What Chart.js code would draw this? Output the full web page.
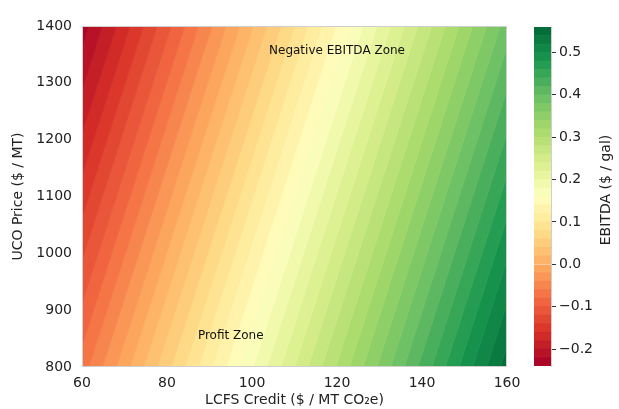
<!DOCTYPE html>
<html>
<head>
    <title>EBITDA contour</title>
    <script src="https://cdn.jsdelivr.net/npm/chart.js"></script>
    <style>
        body { margin: 0; background: #fff; }
        #main { position: absolute; left: 0; top: 0; }
        #cbar { position: absolute; left: 521px; top: 0; }
    </style>
</head>
<body>
    <canvas id="main" width="529" height="409"></canvas>
    <canvas id="cbar" width="98" height="409"></canvas>

    <script>
        // contour levels of EBITDA ($ / gal)
        var levels = [-0.24, -0.22, -0.2, -0.18, -0.16, -0.14, -0.12, -0.1, -0.08, -0.06, -0.04, -0.02, 0,
            0.02, 0.04, 0.06, 0.08, 0.1, 0.12, 0.14, 0.16, 0.18, 0.2, 0.22, 0.24, 0.26, 0.28, 0.3,
            0.32, 0.34, 0.36, 0.38, 0.4, 0.42, 0.44, 0.46, 0.48, 0.5, 0.52, 0.54, 0.56];
        // LCFS credit where each inner level (-0.22 ... 0.54) crosses UCO = 800 and UCO = 1400
        var bottomCredit = [35.8, 39.0, 42.3, 45.5, 48.7, 51.9, 55.2, 58.4, 61.6, 64.8, 68.1, 71.3, 74.5,
            77.7, 81.0, 84.2, 87.4, 90.6, 93.9, 97.1, 100.3, 103.5, 106.8, 110.0, 113.2, 116.4, 119.7,
            122.9, 126.1, 129.4, 132.6, 135.8, 139.0, 142.3, 145.5, 148.7, 151.9, 155.2, 158.4];
        var topCredit = [61.6, 64.8, 68.1, 71.3, 74.5, 77.7, 81.0, 84.2, 87.4, 90.6, 93.9, 97.1, 100.3,
            103.5, 106.8, 110.0, 113.2, 116.4, 119.7, 122.9, 126.1, 129.4, 132.6, 135.8, 139.0, 142.3,
            145.5, 148.7, 151.9, 155.2, 158.4, 161.6, 164.8, 168.1, 171.3, 174.5, 177.7, 181.0, 184.2];
        var ucoRange = [800, 1400];
        var creditRange = [60, 160];
        var creditTicks = [60, 80, 100, 120, 140, 160];
        var ucoTicks = [800, 900, 1000, 1100, 1200, 1300, 1400];
        var cbarTicks = [-0.2, -0.1, 0, 0.1, 0.2, 0.3, 0.4, 0.5];
        var zoneLabels = [
            { text: 'Negative EBITDA Zone', credit: 120, uco: 1357 },
            { text: 'Profit Zone', credit: 95, uco: 855 }
        ];

        // RdYlGn
        var rdylgn = [[165, 0, 38], [215, 48, 39], [244, 109, 67], [253, 174, 97], [254, 224, 139],
            [255, 255, 191], [217, 239, 139], [166, 217, 106], [102, 189, 99], [26, 152, 80], [0, 104, 55]];
        function cmap(t) {
            var p = Math.max(0, Math.min(1, t)) * (rdylgn.length - 1);
            var i = Math.min(Math.floor(p), rdylgn.length - 2);
            var f = p - i;
            var c = rdylgn[i].map(function (v, j) { return Math.round(v + (rdylgn[i + 1][j] - v) * f); });
            return 'rgb(' + c.join(',') + ')';
        }
        var bandCount = levels.length - 1;
        function bandColor(k) { return cmap((k + 0.5) / bandCount); }

        var font = { family: 'DejaVu Sans', size: 14 };
        var textColor = '#222';

        function fmt(v) {
            var s = Math.abs(v).toFixed(1);
            return v < -1e-9 ? '\u2212' + s : s;
        }

        // one line per contour level, each band filled to the previous line
        var datasets = [];
        for (var k = 0; k < bandCount; k++) {
            var j = Math.min(k, bottomCredit.length - 1);
            var fill = '-1';
            if (k === 0) fill = { target: { value: creditRange[0] } };
            if (k === bandCount - 1) fill = { target: { value: creditRange[1] } };
            datasets.push({
                data: [{ x: topCredit[j], y: ucoRange[1] }, { x: bottomCredit[j], y: ucoRange[0] }],
                backgroundColor: bandColor(k),
                borderColor: bandColor(k),
                borderWidth: k < bottomCredit.length ? 1 : 0,
                fill: fill,
                pointRadius: 0,
                tension: 0,
                clip: 0
            });
        }

        var zonePlugin = {
            id: 'zones',
            afterDatasetsDraw: function (chart) {
                var c = chart.ctx, a = chart.chartArea;
                c.save();
                c.strokeStyle = '#cfcfcf';
                c.lineWidth = 1;
                c.strokeRect(a.left + 0.5, a.top + 0.5, a.right - a.left - 1, a.bottom - a.top - 1);
                c.fillStyle = '#111';
                c.font = '12px "DejaVu Sans"';
                c.textAlign = 'center';
                c.textBaseline = 'middle';
                zoneLabels.forEach(function (z) {
                    c.fillText(z.text, chart.scales.x.getPixelForValue(z.credit), chart.scales.y.getPixelForValue(z.uco));
                });
                c.restore();
            }
        };

        var chart1 = new Chart(document.getElementById('main').getContext('2d'), {
            type: 'line',
            data: { datasets: datasets },
            options: {
                indexAxis: 'y',
                responsive: false,
                animation: false,
                layout: { padding: { left: 0, top: 26, right: 22, bottom: 0 } },
                plugins: { legend: { display: false }, tooltip: { enabled: false } },
                scales: {
                    x: {
                        type: 'linear', position: 'bottom', min: creditRange[0], max: creditRange[1],
                        afterFit: function (s) { s.height = 42; },
                        afterBuildTicks: function (s) { s.ticks = creditTicks.map(function (v) { return { value: v }; }); },
                        grid: { display: false, drawTicks: false },
                        border: { display: false },
                        ticks: { padding: 8, color: textColor, font: font, maxRotation: 0, callback: function (v) { return String(v); } },
                        title: { display: true, text: 'LCFS Credit ($ / MT CO\u2082e)', color: textColor, font: font, padding: 0 }
                    },
                    y: {
                        type: 'linear', position: 'left', min: ucoRange[0], max: ucoRange[1],
                        afterFit: function (s) { s.width = 82; },
                        afterBuildTicks: function (s) { s.ticks = ucoTicks.map(function (v) { return { value: v }; }); },
                        grid: { display: false, drawTicks: false },
                        border: { display: false },
                        ticks: { padding: 10, color: textColor, font: font, callback: function (v) { return String(v); } },
                        title: { display: true, text: 'UCO Price ($ / MT)', color: textColor, font: font, padding: { top: 10, bottom: 0 } }
                    }
                }
            },
            plugins: [zonePlugin]
        });

        var cbarTitle = {
            id: 'cbarTitle',
            afterDraw: function (chart) {
                var c = chart.ctx;
                c.save();
                c.translate(85, 190);
                c.rotate(-Math.PI / 2);
                c.fillStyle = textColor;
                c.font = '14px "DejaVu Sans"';
                c.textAlign = 'center';
                c.textBaseline = 'middle';
                c.fillText('EBITDA ($ / gal)', 0, 0);
                c.restore();
            }
        };

        var chart2 = new Chart(document.getElementById('cbar').getContext('2d'), {
            type: 'bar',
            data: {
                labels: [''],
                datasets: levels.slice(0, -1).map(function (lo, k) {
                    return {
                        data: [[lo, levels[k + 1]]],
                        backgroundColor: bandColor(k),
                        borderWidth: 0,
                        grouped: false,
                        barPercentage: 1,
                        categoryPercentage: 1
                    };
                })
            },
            options: {
                responsive: false,
                animation: false,
                layout: { padding: { left: 13, top: 27, right: 0, bottom: 43 } },
                plugins: { legend: { display: false }, tooltip: { enabled: false } },
                scales: {
                    x: { display: false },
                    y: {
                        position: 'right', min: levels[0], max: levels[levels.length - 1],
                        afterFit: function (s) { s.width = 68; },
                        afterBuildTicks: function (s) { s.ticks = cbarTicks.map(function (v) { return { value: v }; }); },
                        grid: { drawOnChartArea: false, drawTicks: true, tickLength: 5, color: '#333' },
                        border: { color: '#cfcfcf' },
                        ticks: { padding: 3, color: textColor, font: font, callback: function (v) { return fmt(v); } }
                    }
                }
            },
            plugins: [cbarTitle]
        });
    </script>
</body>
</html>
